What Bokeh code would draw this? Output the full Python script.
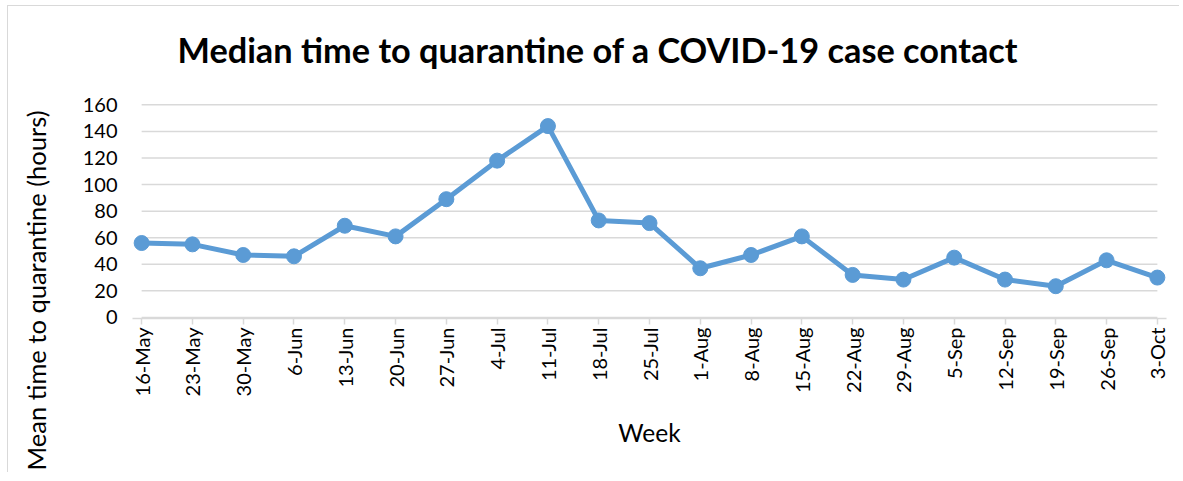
import math
from bokeh.plotting import figure
from bokeh.models import Range1d, FixedTicker, Title, ColumnDataSource
from bokeh.embed import file_html
from bokeh.resources import INLINE

weeks = ["16-May", "23-May", "30-May", "6-Jun", "13-Jun", "20-Jun", "27-Jun",
         "4-Jul", "11-Jul", "18-Jul", "25-Jul", "1-Aug", "8-Aug", "15-Aug",
         "22-Aug", "29-Aug", "5-Sep", "12-Sep", "19-Sep", "26-Sep", "3-Oct"]
hours = [56, 55, 47, 46, 69, 61, 89, 118, 144, 73, 71, 37, 47, 61,
         32, 28.5, 45, 28.5, 23.5, 43, 30]
y_ticks = [0, 20, 40, 60, 80, 100, 120, 140, 160]

title_text = "Median time to quarantine of a COVID-19 case contact"
x_title = "Week"
y_title = "Mean time to quarantine (hours)"

FONT = "Lato"
BLUE = "#5B9BD5"
GRID = "#d9d9d9"

xs = list(range(len(weeks)))
src = ColumnDataSource(dict(x=xs, y=hours, week=weeks))

p = figure(output_backend="svg", toolbar_location=None,
           frame_width=1034, frame_height=215,
           min_border_left=124, min_border_right=13,
           min_border_top=97, min_border_bottom=154,
           x_range=Range1d(-0.18, len(weeks) - 1 + 0.18),
           y_range=Range1d(-0.8, 161))
p.title_location = None
p.styles = {"border-top": "1px solid #d9d9d9", "border-left": "1px solid #d9d9d9",
            "margin-left": "7px", "margin-top": "5px"}
p.outline_line_color = None
p.xgrid.visible = False
p.ygrid.visible = False
p.background_fill_color = "white"
p.border_fill_color = "white"

# gridlines between first and last week, as in the reference
p.segment(x0=[xs[0]] * len(y_ticks), x1=[xs[-1]] * len(y_ticks), y0=y_ticks, y1=y_ticks,
          line_color=GRID, line_width=1.5)

p.line("x", "y", source=src, line_color=BLUE, line_width=5)
p.scatter("x", "y", source=src, size=15, fill_color=BLUE, line_color=BLUE)

# x axis
xa = p.xaxis[0]
xa.ticker = FixedTicker(ticks=xs)
xa.major_label_overrides = {i: w for i, w in enumerate(weeks)}
xa.major_label_orientation = math.pi / 2
xa.major_label_text_font = FONT
xa.major_label_text_font_size = "20px"
xa.major_label_text_color = "black"
xa.major_label_standoff = 3
xa.major_tick_out = 6
xa.major_tick_in = 0
xa.major_tick_line_color = GRID
xa.major_tick_line_width = 1.5
xa.minor_tick_line_color = None
xa.axis_line_color = GRID
xa.axis_line_width = 1.5
xa.axis_label = x_title
xa.axis_label_text_font = FONT
xa.axis_label_text_font_size = "24.5px"
xa.axis_label_text_font_style = "normal"
xa.axis_label_text_color = "black"
xa.axis_label_standoff = 19

# y axis
ya = p.yaxis[0]
ya.ticker = FixedTicker(ticks=y_ticks)
ya.major_label_text_font = FONT
ya.major_label_text_font_size = "20px"
ya.major_label_text_color = "black"
ya.major_label_standoff = 15
ya.major_tick_out = 0
ya.major_tick_in = 0
ya.minor_tick_line_color = None
ya.axis_line_color = None

# spacing element between the y axis and its title
p.add_layout(Title(text=" ", text_font_size="1px", standoff=17), "left")
ytitle = Title(text=y_title, align="left", offset=-152, standoff=18,
               text_font=FONT, text_font_size="25.5px", text_font_style="normal",
               text_color="black")
p.add_layout(ytitle, "left")

# spacing element between the plot area and the chart title
p.add_layout(Title(text=" ", text_font_size="1px", standoff=11), "above")
main_title = Title(text=title_text, align="left", offset=45, standoff=40,
                   text_font=FONT, text_font_size="34.3px", text_font_style="bold",
                   text_color="black")
p.add_layout(main_title, "above")

open("out.html", "w").write(file_html(p, INLINE))
